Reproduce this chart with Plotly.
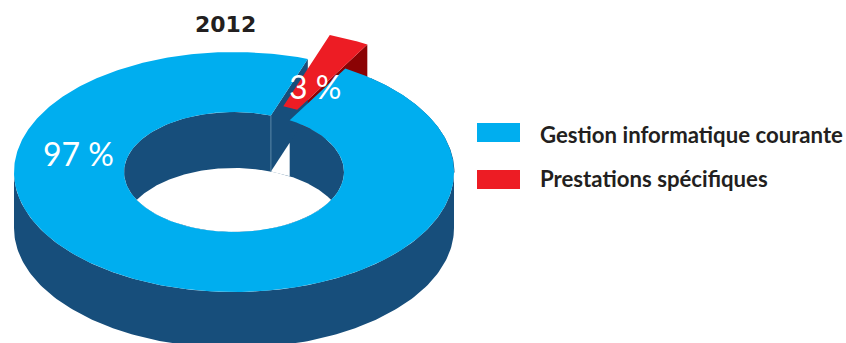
import numpy as np
import plotly.graph_objects as go

# Chart content
title = "2012"
categories = ["Gestion informatique courante", "Prestations spécifiques"]
shares = [97, 3]
share_labels = ["97 %", "3 %"]

# Palette
BLUE = "#00aeef"
RED = "#ed1c24"
BLUE_DARK = "#174e7b"
RED_DARK = "#8b0304"
TEXT = "#231f20"

# Projected donut geometry, in page pixels
CX, CY = 234, 172
RX, RY = 220, 120
HOLE = 0.5
DEPTH = 56
SLICE_CENTRE = 25.0
EXPLODE = (22, -24)
SLICE_HOLE = 0.37

sweep = shares[1] / sum(shares) * 360
a0 = SLICE_CENTRE - sweep / 2
a1 = SLICE_CENTRE + sweep / 2


def pt(deg, r=1.0, dx=0.0, dy=0.0):
    t = np.radians(deg)
    return CX + RX * r * np.sin(t) + dx, CY - RY * r * np.cos(t) + dy


def arc(d0, d1, r=1.0, dx=0.0, dy=0.0, n=160):
    t = np.linspace(d0, d1, n)
    return pt(t, r, dx, dy)


def poly(parts):
    xs = np.concatenate([np.atleast_1d(p[0]) for p in parts])
    ys = np.concatenate([np.atleast_1d(p[1]) for p in parts])
    return xs, ys


fig = go.Figure()


def add(parts, color):
    x, y = poly(parts)
    fig.add_trace(go.Scatter(x=x, y=y, mode="lines", fill="toself", fillcolor=color,
                             line=dict(width=0, color=color), hoverinfo="skip",
                             showlegend=False))


def stroke(x, y, color, width):
    fig.add_trace(go.Scatter(x=x, y=y, mode="lines", line=dict(width=width, color=color),
                             hoverinfo="skip", showlegend=False))


# Outer wall of the ring
add([arc(90, 270), arc(270, 90, dy=DEPTH)], BLUE_DARK)

# Cut face of the detached slice
ex, ey = EXPLODE
add([pt(a1, 1, ex, ey), pt(a1, 1, ex, ey + DEPTH), pt(a1, SLICE_HOLE, ex, ey + DEPTH),
     pt(a1, SLICE_HOLE, ex, ey)], RED_DARK)

# Inner wall, then the see-through part of the hole
add([arc(0, 360, HOLE)], BLUE_DARK)
cross = np.degrees(np.arcsin(np.sqrt(1 - (DEPTH / (2 * RY * HOLE)) ** 2)))
add([arc(180 - cross, 180 + cross, HOLE), arc(360 - cross, 360 + cross, HOLE, dy=DEPTH)], "#ffffff")

# Face of the ring's cut visible through the gap, and the notch it leaves
xa, ya = pt(a0, HOLE)
xo, yo = pt(a0, 1)
xb, yb = pt(a1, HOLE)
apex = ya + DEPTH + (yo - ya) / (xo - xa) * (xb - xa)
add([(xa, ya), (xo, yo), (xo, yo + DEPTH), (xa, ya + DEPTH)], BLUE_DARK)
add([(xa, ya + DEPTH), (xb, apex), (xb, yb + DEPTH)], "#ffffff")
stroke([xa, xa], [ya, ya + DEPTH], "#6f97b5", 0.8)

# Top of the detached slice
add([arc(a0, a1, 1, ex, ey), arc(a1, a0, SLICE_HOLE, ex, ey)], RED)

# Shaded rim on the far right of the ring, then the ring's top face
rim = arc(a1 + 8, 90, 1, dy=0.6)
stroke(rim[0], rim[1], BLUE_DARK, 1)
add([arc(a1, a0 + 360, 1, n=500), arc(a0 + 360, a1, HOLE, n=500)], BLUE)

annotations = [
    dict(x=225, y=24, text=f"<b>{title}</b>", font=dict(family="DejaVu Sans", size=22, color=TEXT)),
    dict(x=78, y=153, text=share_labels[0], font=dict(family="Lato", size=32, color="#ffffff")),
    dict(x=315, y=86, text=share_labels[1], font=dict(family="Lato", size=32, color="#ffffff")),
]
shapes = []
swatch_colors = [BLUE, RED]
for row, (name, colour) in enumerate(zip(categories, swatch_colors)):
    top = 123 + row * 47
    shapes.append(dict(type="rect", xref="x", yref="y", x0=477, x1=520, y0=top, y1=top + 19,
                       fillcolor=colour, line_width=0))
    annotations.append(dict(x=538, y=134 + row * 44, text=f"<b>{name}</b>", xanchor="left",
                            font=dict(family="Lato", size=22.2, color=TEXT)))
for a in annotations:
    a.update(xref="x", yref="y", showarrow=False)
    a.setdefault("xanchor", "center")
    a["yanchor"] = "middle"

fig.update_layout(
    width=846, height=343, margin=dict(l=0, r=0, t=0, b=0),
    paper_bgcolor="#ffffff", plot_bgcolor="#ffffff", showlegend=False,
    xaxis=dict(range=[0, 846], visible=False, fixedrange=True),
    yaxis=dict(range=[343, 0], visible=False, fixedrange=True),
    annotations=annotations, shapes=shapes,
)
fig.write_html("out.html", config=dict(displayModeBar=False))
